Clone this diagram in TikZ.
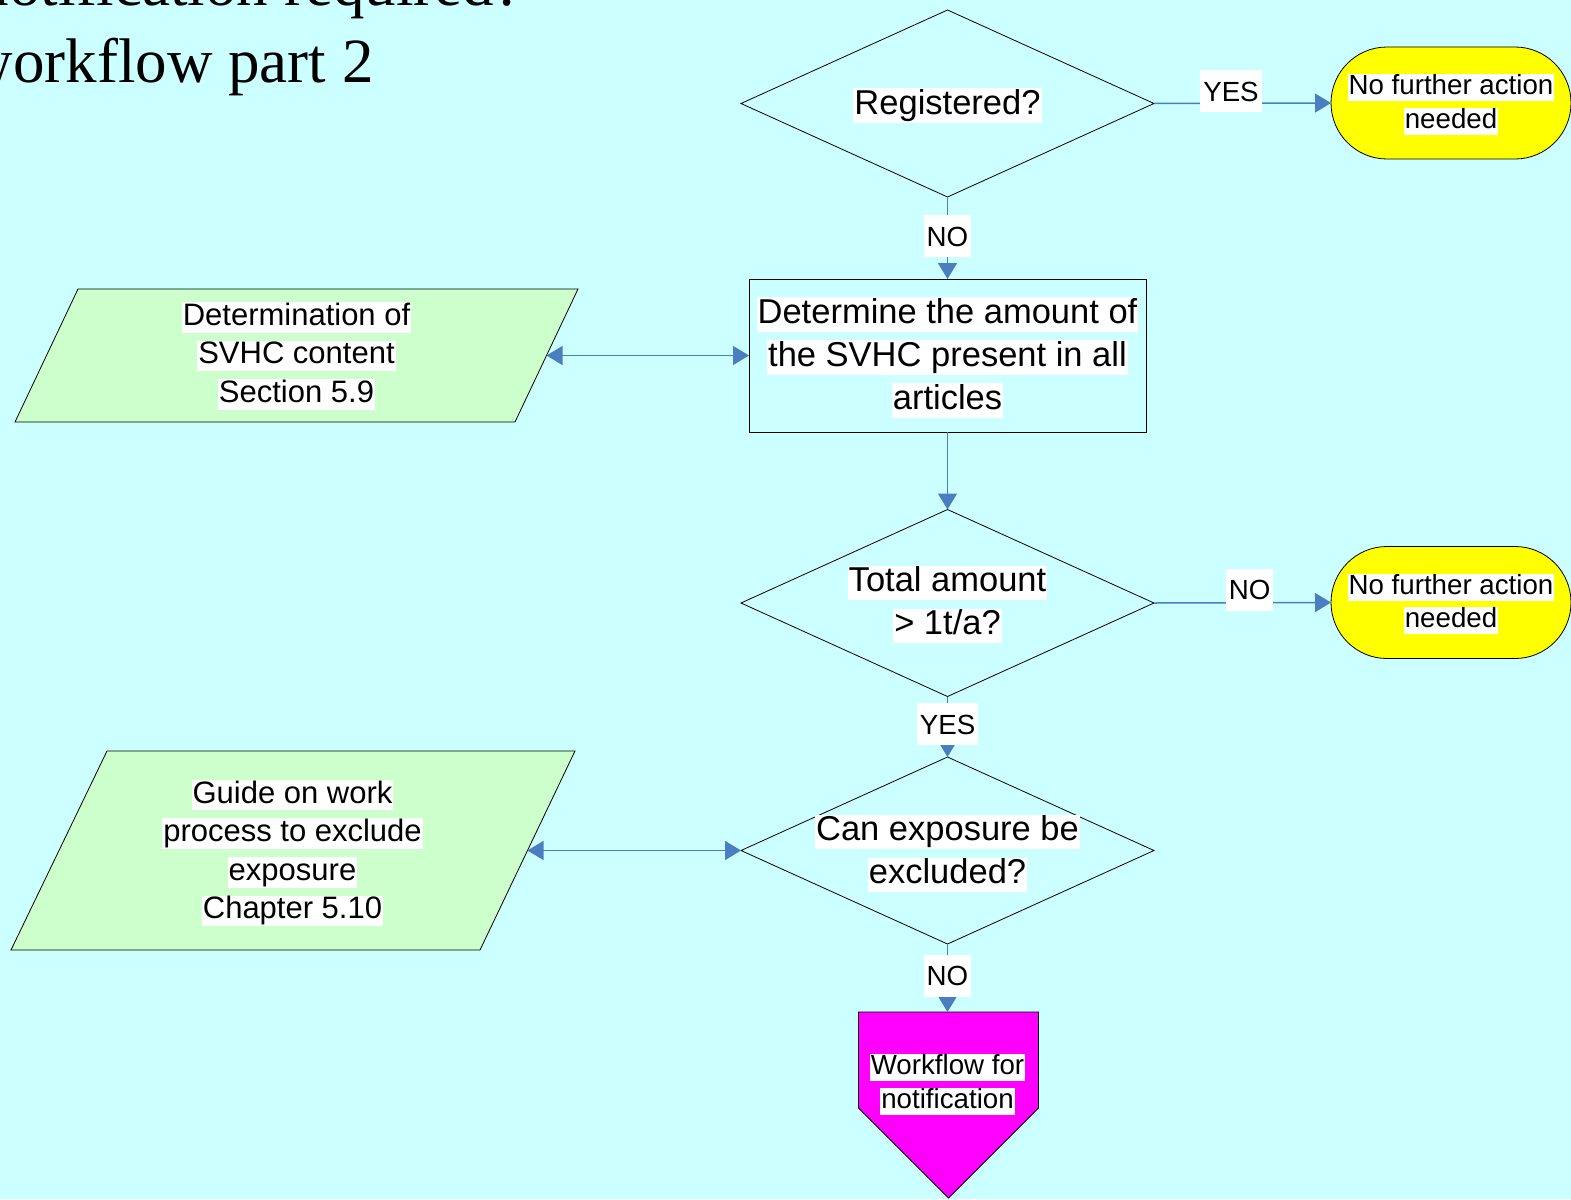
\documentclass[tikz,border=0pt]{standalone}
\usepackage{fontspec}
\setmainfont{Liberation Sans}
\newfontfamily\titlefont{Liberation Serif}
\usetikzlibrary{shapes.geometric,arrows.meta}
\definecolor{bgcyan}{RGB}{204,255,255}
\definecolor{pargreen}{RGB}{204,255,204}
\definecolor{conblue}{RGB}{74,126,193}
\definecolor{termyellow}{RGB}{255,255,0}
\definecolor{wfmagenta}{RGB}{255,0,255}
\newcommand\hl[1]{{\setlength\fboxsep{0pt}\colorbox{white}{\kern1pt\rule[-0.24em]{0pt}{0.99em}#1\kern1pt}}}
\newcommand\fbig{\fontsize{34.5}{43}\selectfont}
\newcommand\fmid{\fontsize{31}{38.6}\selectfont}
\newcommand\fsmall{\fontsize{27.7}{33.5}\selectfont}
\begin{document}
\begin{tikzpicture}[x=1pt,y=-1pt,
 every node/.style={inner sep=0pt, outer sep=0pt},
 dia/.style={diamond, draw=black, line width=0.8pt, minimum width=413pt, minimum height=187pt},
 box/.style={rectangle, draw=black, line width=0.8pt, minimum width=397pt, minimum height=153pt},
 term/.style={rectangle, rounded corners=56pt, draw=black, fill=termyellow, line width=0.8pt, minimum width=240pt, minimum height=112pt},
 parashape/.style={draw=black, fill=pargreen, line width=0.8pt},
 paratext/.style={align=center, font=\fmid},
 big/.style={align=center, font=\fbig},
 small/.style={align=center, font=\fsmall},
 conn/.style={draw=conblue, line width=1.5pt, -{Triangle[length=16pt,width=19pt]}},
 dconn/.style={draw=conblue, line width=1.5pt, {Triangle[length=16pt,width=19pt]}-{Triangle[length=16pt,width=19pt]}},
 lbl/.style={fill=white, font=\fsmall, inner xsep=3pt, inner ysep=11pt, text height=20pt, text depth=0pt},
 ttl/.style={anchor=base east, font=\titlefont\fontsize{63}{70}\selectfont}
]
\fill[bgcyan] (0,0) rectangle (1571,1199);
\useasboundingbox (0,0) rectangle (1571,1199);

% title
\node[ttl] (t1) at (522,6) {notification required?};
\node[ttl] (t2) at (373.5,82) {workflow part 2};

% parallelograms
\path[parashape] (78,289) -- (578,289) -- (515,422) -- (15,422) -- cycle;
\node[paratext] (par1) at (296.5,356) {\hl{Determination of}\\\hl{SVHC content}\\\hl{Section 5.9}};
\coordinate (par1e) at (546.5,355.5);
\path[parashape] (107,751) -- (575,751) -- (480,950) -- (11,950) -- cycle;
\node[paratext] (par2) at (292.5,853) {\hl{Guide on work}\\\hl{process to exclude}\\\hl{exposure}\\\hl{Chapter 5.10}};
\coordinate (par2e) at (527.5,850.5);

% shapes
\node[dia, label={[big, yshift=-2pt]center:{\hl{Registered?}}}] (d1) at (947.5,103.5) {};
\node[term, label={[small, yshift=-1.5pt]center:{\hl{No further action}\\\hl{needed}}}] (end1) at (1451,103) {};
\node[box, label={[big, yshift=-2pt]center:{\hl{Determine the amount of}\\\hl{the SVHC present in all}\\\hl{articles}}}] (det) at (947.5,355.5) {};
\node[dia, label={[big, yshift=-1.5pt]center:{\hl{Total amount}\\\hl{> 1t/a?}}}] (d2) at (947.5,603) {};
\node[term, label={[small, yshift=-1.5pt]center:{\hl{No further action}\\\hl{needed}}}] (end2) at (1451,602.5) {};
\node[dia, label={[big, yshift=-3pt]center:{\hl{Can exposure be}\\\hl{excluded?}}}] (d3) at (947.5,850.5) {};

% off-page connector
\path[draw=black, fill=wfmagenta, line width=0.8pt] (858.5,1012) -- (1038.5,1012) -- (1038.5,1108) -- (948.5,1198) -- (858.5,1108) -- cycle;
\node[minimum width=180pt, minimum height=96pt, anchor=north, label={[small, yshift=-24.5pt]center:{\hl{Workflow for}\\\hl{notification}}}] (wf) at (947.5,1012) {};

% connectors
\draw[conn] (d1.east) -- node[lbl, pos=0.435, yshift=12pt]{YES} (end1.west);
\draw[conn] (d1.south) -- node[lbl, pos=0.48]{NO} (det.north);
\draw[dconn] (par1e) -- (det.west);
\draw[conn] (det.south) -- (d2.north);
\draw[conn] (d2.east) -- node[lbl, pos=0.54, yshift=13pt]{NO} (end2.west);
\draw[conn] (d2.south) -- node[lbl, pos=0.46]{YES} (d3.north);
\draw[dconn] (par2e) -- (d3.west);
\draw[conn] (d3.south) -- node[lbl, pos=0.47]{NO} (wf.north);
\end{tikzpicture}
\end{document}
